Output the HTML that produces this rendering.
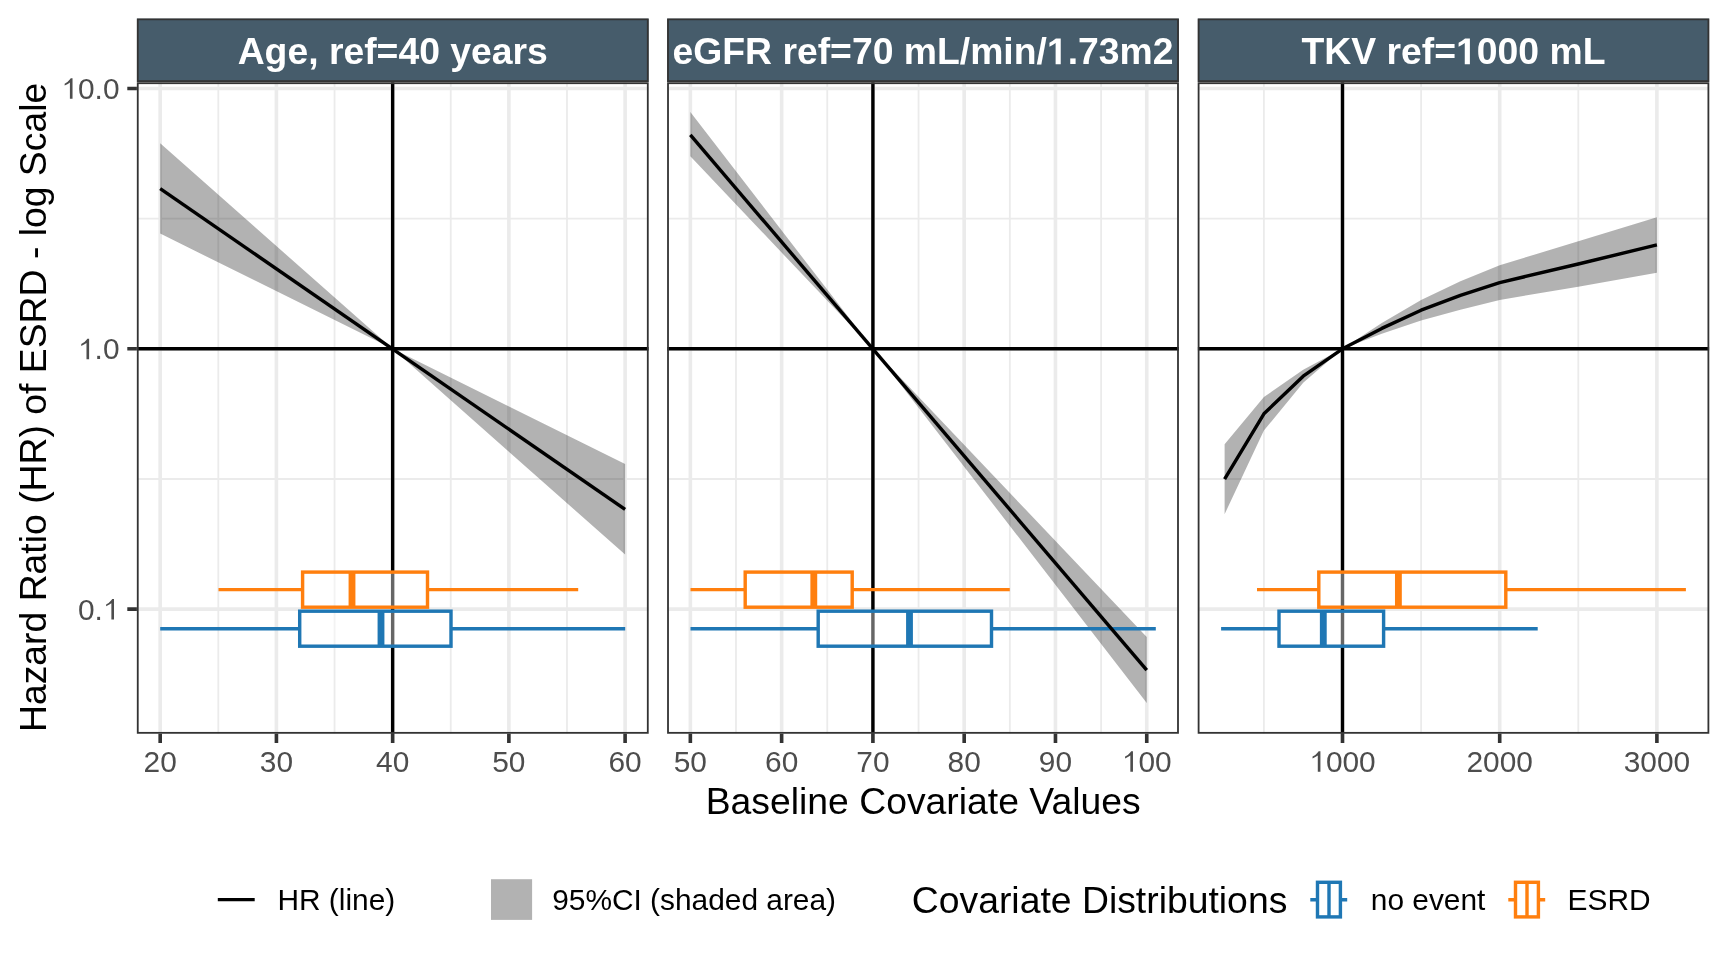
<!DOCTYPE html><html><head><meta charset="utf-8"><style>html,body{margin:0;padding:0;background:#fff;}svg{display:block;will-change:transform;}</style></head><body>
<svg width="1728" height="960" viewBox="0 0 1728 960" font-family='"Liberation Sans", sans-serif'>
<rect x="0" y="0" width="1728" height="960" fill="#fff"/>
<defs>
<clipPath id="cp0"><rect x="136.85" y="82.3" width="511.85" height="651.45"/></clipPath>
<clipPath id="cs0"><rect x="136.85" y="18.4" width="511.85" height="63.60"/></clipPath>
<clipPath id="cp1"><rect x="667.1" y="82.3" width="511.80" height="651.45"/></clipPath>
<clipPath id="cs1"><rect x="667.1" y="18.4" width="511.80" height="63.60"/></clipPath>
<clipPath id="cp2"><rect x="1197.7" y="82.3" width="511.60" height="651.45"/></clipPath>
<clipPath id="cs2"><rect x="1197.7" y="18.4" width="511.60" height="63.60"/></clipPath>
</defs>
<g clip-path="url(#cs0)"><rect x="136.85" y="18.4" width="511.85" height="63.60" fill="#465C6B" stroke="#333333" stroke-width="3.62"/></g>
<text x="392.78" y="64.3" fill="#fff" font-weight="bold" font-size="37.33" text-anchor="middle">Age, ref=40 years</text>
<g clip-path="url(#cp0)">
<rect x="136.85" y="82.3" width="511.85" height="651.45" fill="#fff"/>
<path d="M218.30 82.3V733.75M334.53 82.3V733.75M450.76 82.3V733.75M567.00 82.3V733.75M136.85 478.98H648.7M136.85 218.62H648.7" stroke="#EBEBEB" stroke-width="1.81" fill="none"/>
<path d="M160.19 82.3V733.75M276.42 82.3V733.75M392.65 82.3V733.75M508.88 82.3V733.75M625.11 82.3V733.75M136.85 609.15H648.7M136.85 348.80H648.7M136.85 88.45H648.7" stroke="#EBEBEB" stroke-width="3.62" fill="none"/>
<polygon points="160.19,143.30 392.65,348.80 625.11,464.00 625.11,554.60 392.65,348.80 160.19,233.60" fill="#000" fill-opacity="0.3"/>
<path d="M392.65 82.3V733.75M136.85 348.80H648.7" stroke="#000" stroke-width="3.42" fill="none"/>
<path d="M218.5 589.65H302.6M427.5 589.65H578.2" stroke="#FF7F0E" stroke-width="3.42" fill="none"/>
<rect x="302.6" y="572.1" width="124.90" height="35.10" fill="#fff" fill-opacity="0.4" stroke="#FF7F0E" stroke-width="3.42"/>
<path d="M352.0 572.1V607.2" stroke="#FF7F0E" stroke-width="6.84" fill="none"/>
<path d="M160.2 628.7H299.7M451.0 628.7H625.2" stroke="#1F77B4" stroke-width="3.42" fill="none"/>
<rect x="299.7" y="611.2" width="151.30" height="35.00" fill="#fff" fill-opacity="0.4" stroke="#1F77B4" stroke-width="3.42"/>
<path d="M381.0 611.2V646.2" stroke="#1F77B4" stroke-width="6.84" fill="none"/>
<polyline points="160.19,188.60 625.11,509.40" stroke="#000" stroke-width="3.42" fill="none" stroke-linejoin="round"/>
<rect x="136.85" y="82.3" width="511.85" height="651.45" fill="none" stroke="#333333" stroke-width="3.62"/>
</g>
<path d="M160.19 733.75V743.0M276.42 733.75V743.0M392.65 733.75V743.0M508.88 733.75V743.0M625.11 733.75V743.0" stroke="#333333" stroke-width="3.62" fill="none"/>
<text transform="translate(0 771.7) scale(1 1.01) translate(0 -771.7)" x="160.19" y="771.7" fill="#4D4D4D" font-size="29.87" text-anchor="middle">20</text>
<text transform="translate(0 771.7) scale(1 1.01) translate(0 -771.7)" x="276.42" y="771.7" fill="#4D4D4D" font-size="29.87" text-anchor="middle">30</text>
<text transform="translate(0 771.7) scale(1 1.01) translate(0 -771.7)" x="392.65" y="771.7" fill="#4D4D4D" font-size="29.87" text-anchor="middle">40</text>
<text transform="translate(0 771.7) scale(1 1.01) translate(0 -771.7)" x="508.88" y="771.7" fill="#4D4D4D" font-size="29.87" text-anchor="middle">50</text>
<text transform="translate(0 771.7) scale(1 1.01) translate(0 -771.7)" x="625.11" y="771.7" fill="#4D4D4D" font-size="29.87" text-anchor="middle">60</text>
<g clip-path="url(#cs1)"><rect x="667.1" y="18.4" width="511.80" height="63.60" fill="#465C6B" stroke="#333333" stroke-width="3.62"/></g>
<text x="923.00" y="64.3" fill="#fff" font-weight="bold" font-size="37.33" text-anchor="middle">eGFR ref=70 mL/min/&#x2007;.73m2</text>
<g clip-path="url(#cp1)">
<rect x="667.1" y="82.3" width="511.80" height="651.45" fill="#fff"/>
<path d="M735.99 82.3V733.75M827.27 82.3V733.75M918.55 82.3V733.75M1009.83 82.3V733.75M1101.11 82.3V733.75M667.1 478.98H1178.9M667.1 218.62H1178.9" stroke="#EBEBEB" stroke-width="1.81" fill="none"/>
<path d="M690.35 82.3V733.75M781.63 82.3V733.75M872.91 82.3V733.75M964.19 82.3V733.75M1055.47 82.3V733.75M1146.75 82.3V733.75M667.1 609.15H1178.9M667.1 348.80H1178.9M667.1 88.45H1178.9" stroke="#EBEBEB" stroke-width="3.62" fill="none"/>
<polygon points="690.35,112.10 872.91,348.80 1146.75,637.00 1146.75,702.90 872.91,348.80 690.35,156.30" fill="#000" fill-opacity="0.3"/>
<path d="M872.91 82.3V733.75M667.1 348.80H1178.9" stroke="#000" stroke-width="3.42" fill="none"/>
<path d="M690.5 589.65H745.2M852.2 589.65H1009.8" stroke="#FF7F0E" stroke-width="3.42" fill="none"/>
<rect x="745.2" y="572.1" width="107.00" height="35.10" fill="#fff" fill-opacity="0.4" stroke="#FF7F0E" stroke-width="3.42"/>
<path d="M813.8 572.1V607.2" stroke="#FF7F0E" stroke-width="6.84" fill="none"/>
<path d="M690.5 628.7H818.2M991.5 628.7H1155.8" stroke="#1F77B4" stroke-width="3.42" fill="none"/>
<rect x="818.2" y="611.2" width="173.30" height="35.00" fill="#fff" fill-opacity="0.4" stroke="#1F77B4" stroke-width="3.42"/>
<path d="M909.5 611.2V646.2" stroke="#1F77B4" stroke-width="6.84" fill="none"/>
<polyline points="690.35,134.90 1146.75,670.10" stroke="#000" stroke-width="3.42" fill="none" stroke-linejoin="round"/>
<rect x="667.1" y="82.3" width="511.80" height="651.45" fill="none" stroke="#333333" stroke-width="3.62"/>
</g>
<path d="M690.35 733.75V743.0M781.63 733.75V743.0M872.91 733.75V743.0M964.19 733.75V743.0M1055.47 733.75V743.0M1146.75 733.75V743.0" stroke="#333333" stroke-width="3.62" fill="none"/>
<text transform="translate(0 771.7) scale(1 1.01) translate(0 -771.7)" x="690.35" y="771.7" fill="#4D4D4D" font-size="29.87" text-anchor="middle">50</text>
<text transform="translate(0 771.7) scale(1 1.01) translate(0 -771.7)" x="781.63" y="771.7" fill="#4D4D4D" font-size="29.87" text-anchor="middle">60</text>
<text transform="translate(0 771.7) scale(1 1.01) translate(0 -771.7)" x="872.91" y="771.7" fill="#4D4D4D" font-size="29.87" text-anchor="middle">70</text>
<text transform="translate(0 771.7) scale(1 1.01) translate(0 -771.7)" x="964.19" y="771.7" fill="#4D4D4D" font-size="29.87" text-anchor="middle">80</text>
<text transform="translate(0 771.7) scale(1 1.01) translate(0 -771.7)" x="1055.47" y="771.7" fill="#4D4D4D" font-size="29.87" text-anchor="middle">90</text>
<text transform="translate(0 771.7) scale(1 1.01) translate(0 -771.7)" x="1146.75" y="771.7" fill="#4D4D4D" font-size="29.87" text-anchor="middle">&#x2007;00</text>
<g clip-path="url(#cs2)"><rect x="1197.7" y="18.4" width="511.60" height="63.60" fill="#465C6B" stroke="#333333" stroke-width="3.62"/></g>
<text x="1453.50" y="64.3" fill="#fff" font-weight="bold" font-size="37.33" text-anchor="middle">TKV ref=&#x2007;000 mL</text>
<g clip-path="url(#cp2)">
<rect x="1197.7" y="82.3" width="511.60" height="651.45" fill="#fff"/>
<path d="M1263.90 82.3V733.75M1421.10 82.3V733.75M1578.30 82.3V733.75M1197.7 478.98H1709.3M1197.7 218.62H1709.3" stroke="#EBEBEB" stroke-width="1.81" fill="none"/>
<path d="M1342.50 82.3V733.75M1499.70 82.3V733.75M1656.90 82.3V733.75M1197.7 609.15H1709.3M1197.7 348.80H1709.3M1197.7 88.45H1709.3" stroke="#EBEBEB" stroke-width="3.62" fill="none"/>
<polygon points="1224.60,444.20 1263.90,397.05 1303.20,369.65 1342.50,348.80 1381.80,323.00 1421.10,299.90 1460.40,281.15 1499.70,265.20 1578.30,241.35 1656.90,217.15 1656.90,272.65 1578.30,286.65 1499.70,300.00 1460.40,309.65 1421.10,320.50 1381.80,333.80 1342.50,348.80 1303.20,382.75 1263.90,430.55 1224.60,514.20" fill="#000" fill-opacity="0.3"/>
<path d="M1342.50 82.3V733.75M1197.7 348.80H1709.3" stroke="#000" stroke-width="3.42" fill="none"/>
<path d="M1257.0 589.65H1318.8M1505.8 589.65H1685.9" stroke="#FF7F0E" stroke-width="3.42" fill="none"/>
<rect x="1318.8" y="572.1" width="187.00" height="35.10" fill="#fff" fill-opacity="0.4" stroke="#FF7F0E" stroke-width="3.42"/>
<path d="M1398.4 572.1V607.2" stroke="#FF7F0E" stroke-width="6.84" fill="none"/>
<path d="M1221.1 628.7H1279.0M1383.6 628.7H1537.7" stroke="#1F77B4" stroke-width="3.42" fill="none"/>
<rect x="1279.0" y="611.2" width="104.60" height="35.00" fill="#fff" fill-opacity="0.4" stroke="#1F77B4" stroke-width="3.42"/>
<path d="M1323.3 611.2V646.2" stroke="#1F77B4" stroke-width="6.84" fill="none"/>
<polyline points="1224.60,479.20 1263.90,413.80 1303.20,376.20 1342.50,348.80 1381.80,328.40 1421.10,310.20 1460.40,295.40 1499.70,282.60 1578.30,264.00 1656.90,244.90" stroke="#000" stroke-width="3.42" fill="none" stroke-linejoin="round"/>
<rect x="1197.7" y="82.3" width="511.60" height="651.45" fill="none" stroke="#333333" stroke-width="3.62"/>
</g>
<path d="M1342.50 733.75V743.0M1499.70 733.75V743.0M1656.90 733.75V743.0" stroke="#333333" stroke-width="3.62" fill="none"/>
<text transform="translate(0 771.7) scale(1 1.01) translate(0 -771.7)" x="1342.50" y="771.7" fill="#4D4D4D" font-size="29.87" text-anchor="middle">&#x2007;000</text>
<text transform="translate(0 771.7) scale(1 1.01) translate(0 -771.7)" x="1499.70" y="771.7" fill="#4D4D4D" font-size="29.87" text-anchor="middle">2000</text>
<text transform="translate(0 771.7) scale(1 1.01) translate(0 -771.7)" x="1656.90" y="771.7" fill="#4D4D4D" font-size="29.87" text-anchor="middle">3000</text>
<path d="M127.3 609.15H136.9M127.3 348.80H136.9M127.3 88.45H136.9" stroke="#333333" stroke-width="3.62" fill="none"/>
<text transform="translate(0 619.55) scale(1 1.01) translate(0 -619.55)" x="119.5" y="619.55" fill="#4D4D4D" font-size="29.87" text-anchor="end">0.&#x2007;</text>
<text transform="translate(0 359.20) scale(1 1.01) translate(0 -359.20)" x="119.5" y="359.20" fill="#4D4D4D" font-size="29.87" text-anchor="end">&#x2007;.0</text>
<text transform="translate(0 98.85) scale(1 1.01) translate(0 -98.85)" x="119.5" y="98.85" fill="#4D4D4D" font-size="29.87" text-anchor="end">&#x2007;0.0</text>
<text x="923.2" y="813.5" fill="#000" font-size="37.33" text-anchor="middle">Baseline Covariate Values</text>
<text transform="translate(45.9 407.4) rotate(-90)" x="0" y="0" fill="#000" font-size="37.33" text-anchor="middle">Hazard Ratio (HR) of ESRD - log Scale</text>
<path d="M217.8 899.6H254.7" stroke="#000" stroke-width="3.42"/>
<text x="277.4" y="910.1" fill="#000" font-size="29.87">HR (line)</text>
<rect x="491" y="879.2" width="41.1" height="40.7" fill="#000" fill-opacity="0.3"/>
<text x="552.2" y="910.1" fill="#000" font-size="29.87">95%CI (shaded area)</text>
<text x="911.8" y="912.8" fill="#000" font-size="37.33">Covariate Distributions</text>
<path d="M1310.3 899.8H1317.5M1340.4 899.8H1347.2" stroke="#1F77B4" stroke-width="3.42"/>
<rect x="1317.5" y="882.3" width="22.9" height="34.6" fill="#fff" stroke="#1F77B4" stroke-width="3.42"/>
<path d="M1329 882.3V916.9" stroke="#1F77B4" stroke-width="3.42"/>
<text x="1370.8" y="910.1" fill="#000" font-size="29.87">no event</text>
<path d="M1508.3 899.8H1515.5M1538.4 899.8H1545.2" stroke="#FF7F0E" stroke-width="3.42"/>
<rect x="1515.5" y="882.3" width="22.9" height="34.6" fill="#fff" stroke="#FF7F0E" stroke-width="3.42"/>
<path d="M1527 882.3V916.9" stroke="#FF7F0E" stroke-width="3.42"/>
<text x="1567.6" y="910.1" fill="#000" font-size="29.87">ESRD</text>
<path transform="translate(1046.90 64.30) scale(0.01823 -0.01823)" d="M759 0L478 0L478 1170Q320 1050 140 959L140 1180Q330 1270 493 1409L759 1409Z" fill="#fff"/>
<path transform="translate(0 771.7) scale(1 1.01) translate(0 -771.7) translate(1121.84 771.70) scale(0.01458 -0.01458)" d="M763 0L583 0L583 1105Q490 1020 223 902L223 1030Q450 1130 560 1290Q610 1345 640 1395L763 1395Z" fill="#4D4D4D"/>
<path transform="translate(1456.05 64.30) scale(0.01823 -0.01823)" d="M759 0L478 0L478 1170Q320 1050 140 959L140 1180Q330 1270 493 1409L759 1409Z" fill="#fff"/>
<path transform="translate(0 771.7) scale(1 1.01) translate(0 -771.7) translate(1309.29 771.70) scale(0.01458 -0.01458)" d="M763 0L583 0L583 1105Q490 1020 223 902L223 1030Q450 1130 560 1290Q610 1345 640 1395L763 1395Z" fill="#4D4D4D"/>
<path transform="translate(0 619.55) scale(1 1.01) translate(0 -619.55) translate(102.88 619.55) scale(0.01458 -0.01458)" d="M763 0L583 0L583 1105Q490 1020 223 902L223 1030Q450 1130 560 1290Q610 1345 640 1395L763 1395Z" fill="#4D4D4D"/>
<path transform="translate(0 359.20) scale(1 1.01) translate(0 -359.20) translate(77.99 359.20) scale(0.01458 -0.01458)" d="M763 0L583 0L583 1105Q490 1020 223 902L223 1030Q450 1130 560 1290Q610 1345 640 1395L763 1395Z" fill="#4D4D4D"/>
<path transform="translate(0 98.85) scale(1 1.01) translate(0 -98.85) translate(61.40 98.85) scale(0.01458 -0.01458)" d="M763 0L583 0L583 1105Q490 1020 223 902L223 1030Q450 1130 560 1290Q610 1345 640 1395L763 1395Z" fill="#4D4D4D"/>
</svg></body></html>
